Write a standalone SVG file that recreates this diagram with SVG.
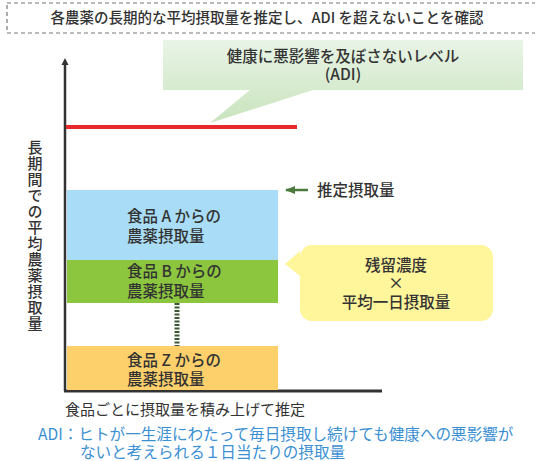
<svg xmlns="http://www.w3.org/2000/svg" width="535" height="461" viewBox="0 0 535 461">
<style>
text{font-family:"Noto Sans CJK JP","Noto Sans",sans-serif;fill:#333;font-weight:500;}
.t15{font-size:15.5px;}
.c{text-anchor:middle;}
.blue{fill:#3b8fd3;font-size:15.6px;font-weight:400;}
</style>
<defs>
<linearGradient id="gg" x1="0" y1="0" x2="0" y2="1">
<stop offset="0" stop-color="#e9f4e7"/>
<stop offset="1" stop-color="#c9e4bd"/>
</linearGradient>
<marker id="ah" viewBox="0 0 10 10" refX="9" refY="5" markerWidth="4" markerHeight="4" orient="auto">
<path d="M0,1 L10,5 L0,9 z" fill="#4b7a3c"/>
</marker>
</defs>
<rect width="535" height="461" fill="#fff"/>
<g id="title">
<rect x="7" y="3" width="540" height="30" fill="none" stroke="#777" stroke-width="1.2" stroke-dasharray="4,3"/>
<text x="267" y="23" class="c" style="font-size:14.5px">各農薬の長期的な平均摂取量を推定し、ADI を超えないことを確認</text>
</g>
<g id="adi-callout">
<path d="M163,40 H523 V90 H313 L210,123 L250,90 H163 Z" fill="url(#gg)"/>
<text x="343" y="62" class="t15 c">健康に悪影響を及ぼさないレベル</text>
<text x="343" y="80" class="t15 c">(ADI)</text>
</g>
<g id="connectors">
<line x1="65" y1="391" x2="65" y2="64" stroke="#333" stroke-width="2.5"/>
<path d="M65,58 L61.5,65 L68.5,65 Z" fill="#333"/>
<line x1="64" y1="391" x2="382" y2="391" stroke="#333" stroke-width="3"/>
<line x1="66" y1="127" x2="297" y2="127" stroke="#e8292c" stroke-width="4"/>
<line x1="177" y1="303" x2="177" y2="346" stroke="#3d5a35" stroke-width="5" stroke-dasharray="2,1.5"/>
<line x1="308" y1="190" x2="286" y2="190" stroke="#4b7a3c" stroke-width="2.5" marker-end="url(#ah)"/>
</g>
<g id="axis-label">
<text x="35" y="140" writing-mode="vertical-rl" style="font-size:15px;letter-spacing:1px">長期間での平均農薬摂取量</text>
</g>
<g id="food-a">
<rect x="67" y="190" width="211" height="70" fill="#a9dcf6"/>
<text x="127" y="222" class="t15">食品 A からの</text>
<text x="127" y="242" class="t15">農薬摂取量</text>
</g>
<g id="food-b">
<rect x="67" y="260" width="211" height="43" fill="#8cc63e"/>
<text x="127" y="277" class="t15">食品 B からの</text>
<text x="127" y="297" class="t15">農薬摂取量</text>
</g>
<g id="food-z">
<rect x="67" y="346" width="211" height="44" fill="#fdd06b"/>
<text x="127" y="366" class="t15">食品 Z からの</text>
<text x="127" y="385" class="t15">農薬摂取量</text>
</g>
<g id="estimate-label">
<text x="317" y="196" class="t15">推定摂取量</text>
</g>
<g id="formula-callout">
<path d="M312,245 H481 A12,12 0 0 1 493,257 V309 A12,12 0 0 1 481,321 H312 A12,12 0 0 1 300,309 V276 L285,264 L300,251 V257 A12,12 0 0 1 312,245 Z" fill="#fff59b"/>
<text x="396" y="271" class="t15 c">残留濃度</text>
<text x="396" y="289" class="t15 c">×</text>
<text x="396" y="308" class="t15 c">平均一日摂取量</text>
</g>
<g id="notes">
<text x="65" y="415" style="font-size:15px;font-weight:400">食品ごとに摂取量を積み上げて推定</text>
<text x="38" y="440" class="blue">ADI：ヒトが一生涯にわたって毎日摂取し続けても健康への悪影響が</text>
<text x="80" y="457.5" class="blue">ないと考えられる１日当たりの摂取量</text>
</g>
</svg>
